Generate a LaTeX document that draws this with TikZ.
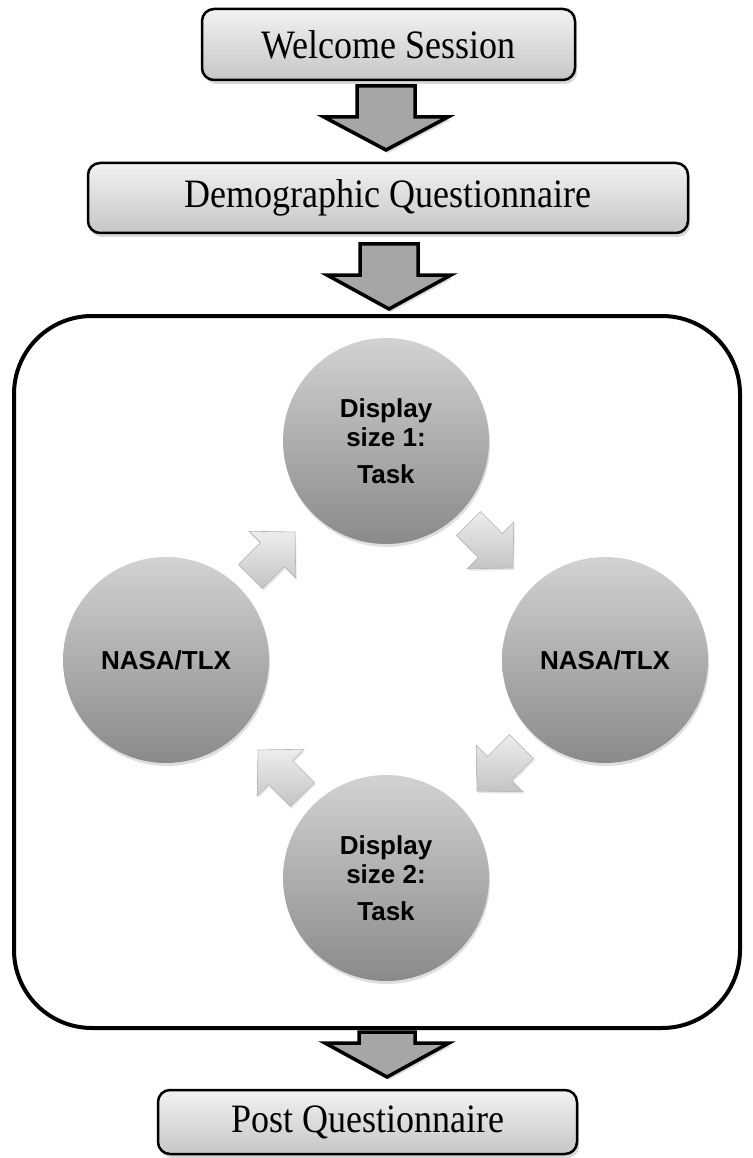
\documentclass[tikz,border=0pt]{standalone}
\usepackage{fontspec}
\usepackage{graphicx}
\setmainfont{Liberation Serif}
\newfontfamily\arialf{Liberation Sans}
\usetikzlibrary{shadows}
\definecolor{boxtop}{HTML}{F2F2F2}
\definecolor{boxbot}{HTML}{C6C6C6}
\definecolor{bigarr}{HTML}{A6A6A6}
\definecolor{circtop}{HTML}{D2D2D2}
\definecolor{circbot}{HTML}{8A8A8A}
\definecolor{smtop}{HTML}{EDEDED}
\definecolor{smbot}{HTML}{C4C4C4}
\definecolor{smline}{HTML}{B4B4B4}
\newcommand{\talltext}[1]{\scalebox{1}[1.12]{#1}}
\tikzset{
  stagebox/.style={draw=black, line width=2.5pt, rounded corners=12pt,
    top color=boxtop, bottom color=boxbot, inner sep=0pt,
    font=\fontsize{36}{40}\selectfont,
    drop shadow={opacity=0.3, shadow xshift=2pt, shadow yshift=-4pt}},
  bigarrow/.style={fill=bigarr, draw=black, line width=3.5pt, line join=miter,
    drop shadow={opacity=0.3, shadow xshift=2pt, shadow yshift=-3pt}},
  cyclecirc/.style={circle, minimum size=206pt, inner sep=0pt, align=center,
    top color=circtop, bottom color=circbot,
    font=\arialf\bfseries\fontsize{26}{29}\selectfont,
    drop shadow={opacity=0.25, shadow xshift=1pt, shadow yshift=-3pt}},
  smallarrow/.style={top color=smtop, bottom color=smbot, draw=smline, line width=0.6pt,
    drop shadow={opacity=0.2, shadow xshift=1pt, shadow yshift=-2pt}},
  cycframe/.style={draw=black, line width=4pt, rounded corners=78pt,
    minimum width=726pt, minimum height=712pt, inner sep=0pt}
}
\begin{document}
\begin{tikzpicture}[x=1pt,y=-1pt]
\useasboundingbox (0,0) rectangle (752,1158);

% boxes
\node[stagebox, minimum width=373pt, minimum height=71pt] (welcome) at (388.5,44.5) {\talltext{Welcome Session}};
\node[stagebox, minimum width=600pt, minimum height=70pt] (demo) at (388,198) {\talltext{Demographic Questionnaire}};
\node[cycframe] (cyc) at (377,672) {};
\node[stagebox, minimum width=419pt, minimum height=64pt] (post) at (367.5,1122) {\talltext{Post Questionnaire}};

% big arrows
\draw[bigarrow] (357,86) -- (357,117) -- (324,117) -- (386,150) -- (448,117) -- (415,117) -- (415,86) -- cycle;
\draw[bigarrow] (360,244) -- (360,275) -- (327,275) -- (389,309) -- (451,275) -- (418,275) -- (418,244) -- cycle;
\draw[bigarrow] (359,1032) -- (359,1043) -- (325,1043) -- (387,1077) -- (449,1043) -- (415,1043) -- (415,1032) -- cycle;

% circles
\node[cyclecirc] (t1) at (386,441) {Display\\size 1:\\[8pt]Task};
\node[cyclecirc] (n1) at (605,660) {NASA/TLX};
\node[cyclecirc] (t2) at (386,878) {Display\\size 2:\\[8pt]Task};
\node[cyclecirc] (n2) at (166,660) {NASA/TLX};

% small cycle arrows
\foreach \cx/\cy/\ang in {271/556/45, 489/544/-45, 501/767/-135, 282/774/135}{
  \draw[smallarrow, shift={(\cx,\cy)}, rotate=\ang]
    (-29,-17) -- (2,-17) -- (2,-33) -- (34,0) -- (2,33) -- (2,17) -- (-29,17) -- cycle;
}
\end{tikzpicture}
\end{document}
